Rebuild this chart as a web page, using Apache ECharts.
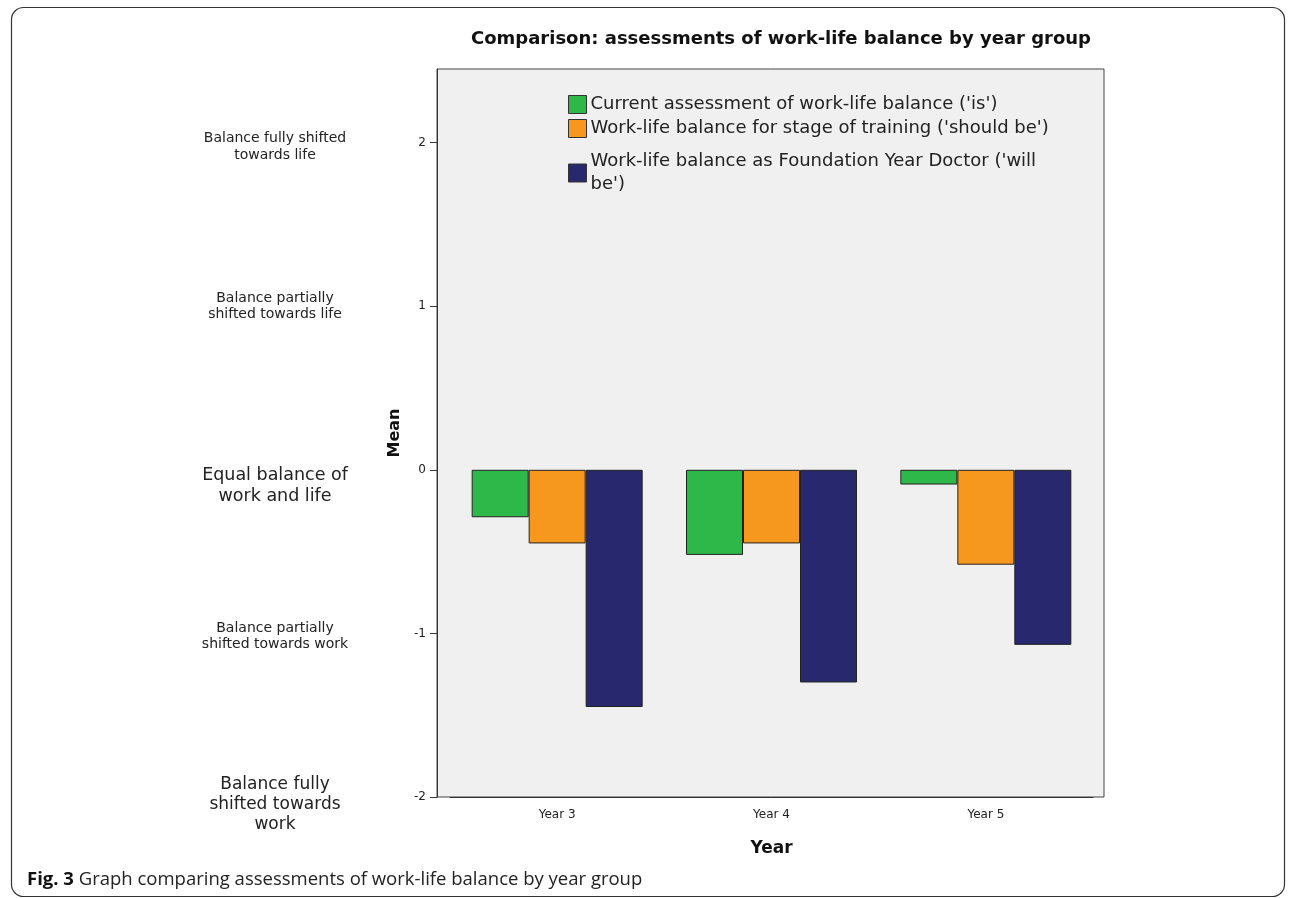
<!DOCTYPE html>
<html>
<head>
<meta charset="utf-8">
<script src="https://cdn.jsdelivr.net/npm/echarts@6/dist/echarts.min.js"></script>
<style>
html,body{margin:0;padding:0;background:#fff;}
#c{width:1292px;height:898px;}
</style>
</head>
<body>
<div id="c"></div>
<script>
const categories = ['Year 3', 'Year 4', 'Year 5'];
const seriesNames = [
  "Current assessment of work-life balance ('is')",
  "Work-life balance for stage of training ('should be')",
  "Work-life balance as Foundation Year Doctor ('will be')"
];
const isValues = [-0.29, -0.52, -0.09];
const shouldValues = [-0.45, -0.45, -0.58];
const willValues = [-1.45, -1.30, -1.07];
const yTicks = [-2, -1, 0, 1, 2];
const balanceLabels = {
  '2': 'Balance fully shifted\ntowards life',
  '1': 'Balance partially\nshifted towards life',
  '0': 'Equal balance of\nwork and life',
  '-1': 'Balance partially\nshifted towards work',
  '-2': 'Balance fully\nshifted towards\nwork'
};
const balanceStyle = {'2': 't', '1': 's', '0': 'm', '-1': 'w', '-2': 'l'};

const colors = ['#2fb84a', '#f7981e', '#27286e'];
const font = 'DejaVu Sans, sans-serif';

const chart = echarts.init(document.getElementById('c'));
const barCommon = {
  type: 'bar',
  xAxisIndex: 0, yAxisIndex: 0,
  barWidth: 57,
  barGap: '0%',
  itemStyle: {borderColor: '#222', borderWidth: 1}
};
chart.setOption({
  animation: false,
  backgroundColor: '#fff',
  color: colors,
  title: {
    text: 'Comparison: assessments of work-life balance by year group',
    left: 776, top: 25, textAlign: 'center',
    textStyle: {fontFamily: font, fontWeight: 'bold', fontSize: 18, color: '#111'}
  },
  legend: {
    orient: 'vertical',
    left: 563, top: 88,
    itemWidth: 18, itemHeight: 18,
    itemGap: 1,
    icon: 'rect',
    data: seriesNames.map((n, i) => ({
      name: n,
      itemStyle: {borderColor: '#333', borderWidth: 1},
      textStyle: i === 2 ? {padding: [9, 0, 9, -1]} : {}
    })),
    formatter: n => n.replace("('will be')", "('will\nbe')"),
    textStyle: {fontFamily: font, fontSize: 18, color: '#222', lineHeight: 23, padding: [0, 0, 0, -1]}
  },
  grid: [{
    left: 450, right: 199, top: 69, bottom: 101, show: false
  }, {
    left: 437, right: 188, top: 69, bottom: 101,
    show: true, backgroundColor: '#f0f0f0', borderColor: '#444', borderWidth: 1
  }],
  xAxis: [{
    type: 'category',
    gridIndex: 0,
    data: categories,
    name: 'Year', nameLocation: 'middle', nameGap: 43,
    nameTextStyle: {fontFamily: font, fontWeight: 'bold', fontSize: 17, color: '#111'},
    axisLine: {onZero: false, lineStyle: {color: '#333', width: 1}},
    axisTick: {alignWithLabel: true, length: 7, lineStyle: {color: '#333'}},
    axisLabel: {fontFamily: font, fontSize: 12, color: '#222', margin: 12}
  }, {
    type: 'category', gridIndex: 1, data: categories, show: false
  }],
  yAxis: [{
    type: 'value',
    gridIndex: 0,
    offset: 13,
    min: -2, max: 2.45, interval: 1,
    name: 'Mean', nameLocation: 'middle', nameGap: 34,
    nameTextStyle: {fontFamily: font, fontWeight: 'bold', fontSize: 16, color: '#111'},
    splitLine: {show: false},
    axisLine: {show: true, lineStyle: {color: '#333', width: 1}},
    axisTick: {show: true, length: 7, customValues: yTicks, lineStyle: {color: '#333'}},
    axisLabel: {customValues: yTicks, fontFamily: font, fontSize: 12, color: '#222', margin: 11}
  }, {
    type: 'value',
    gridIndex: 0,
    position: 'left',
    offset: 13,
    min: -2, max: 2.45, interval: 1,
    splitLine: {show: false},
    axisLine: {show: false},
    axisTick: {show: false},
    axisLabel: {
      customValues: yTicks,
      align: 'center',
      margin: 162,
      formatter: v => {
        const k = String(v);
        return balanceLabels[k].split('\n').map(t => '{' + balanceStyle[k] + '|' + t + '}').join('\n');
      },
      rich: {
        t: {fontFamily: font, fontSize: 14, lineHeight: 17, color: '#222', align: 'center', padding: [8, 0, 0, 0]},
        s: {fontFamily: font, fontSize: 14, lineHeight: 16, color: '#222', align: 'center'},
        w: {fontFamily: font, fontSize: 14, lineHeight: 16, color: '#222', align: 'center', padding: [6, 0, 0, 0]},
        m: {fontFamily: font, fontSize: 17.5, lineHeight: 21, color: '#222', align: 'center', padding: [32, 0, 0, 0]},
        l: {fontFamily: font, fontSize: 17, lineHeight: 20, color: '#222', align: 'center', padding: [16, 0, 0, 0]}
      }
    }
  }, {
    type: 'value', gridIndex: 1, show: false, min: -2, max: 2.45
  }],
  series: [
    Object.assign({name: seriesNames[0], data: isValues}, barCommon),
    Object.assign({name: seriesNames[1], data: shouldValues}, barCommon),
    Object.assign({name: seriesNames[2], data: willValues}, barCommon)
  ],
  graphic: [{
    type: 'rect',
    shape: {x: 11.5, y: 7.5, width: 1273, height: 889, r: 12},
    style: {fill: 'none', stroke: '#333', lineWidth: 1.2},
    silent: true
  }, {
    type: 'text',
    left: 27, top: 870,
    style: {
      text: '{b|Fig. 3} Graph comparing assessments of work-life balance by year group',
      rich: {b: {fontFamily: 'Open Sans, sans-serif', fontWeight: 'bold', fontSize: 18.5, fill: '#111'}},
      fontFamily: 'Open Sans, sans-serif', fontSize: 18.5, fill: '#222'
    }
  }]
});
</script>
</body>
</html>
